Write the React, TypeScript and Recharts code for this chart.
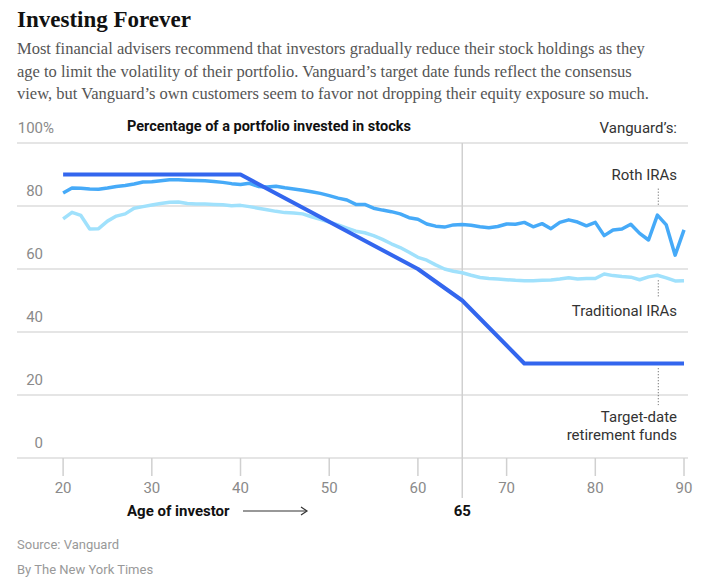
import React from 'react';
import { LineChart, Line, XAxis, YAxis, CartesianGrid, ReferenceLine } from 'recharts';

// ages 20..90, one reading per year
const ages = Array.from({ length: 71 }, (_, i) => 20 + i);

const rothIRA = [
  84.1, 85.7, 85.6, 85.4, 85.3, 85.7, 86.2, 86.5, 87.0, 87.6,
  87.7, 88.0, 88.3, 88.3, 88.2, 88.1, 88.0, 87.8, 87.5, 87.1,
  86.8, 87.2, 86.2, 86.0, 86.3, 85.8, 85.4, 85.0, 84.5, 84.0,
  83.3, 82.5, 81.9, 80.5, 80.5, 79.3, 78.7, 78.2, 77.5, 76.3,
  75.8, 74.3, 73.6, 73.3, 74.0, 74.1, 73.9, 73.4, 73.1, 73.5,
  74.3, 74.2, 74.8, 73.4, 74.4, 72.8, 74.8, 75.6, 74.9, 73.7,
  74.8, 70.6, 72.4, 72.7, 74.2, 71.3, 69.2, 77.1, 74.0, 64.4,
  72.4,
];

const traditionalIRA = [
  75.9, 78.0, 77.0, 72.7, 72.8, 75.2, 76.8, 77.5, 79.3, 79.8,
  80.3, 80.8, 81.2, 81.3, 80.8, 80.6, 80.6, 80.5, 80.4, 80.1,
  80.2, 79.8, 79.3, 78.8, 78.3, 77.9, 77.8, 77.5, 76.6, 75.8,
  74.9, 74.0, 73.0, 72.0, 71.5, 70.6, 69.4, 68.0, 66.8, 65.3,
  63.7, 62.8, 61.3, 60.0, 59.3, 58.8, 58.0, 57.3, 57.0, 56.8,
  56.6, 56.4, 56.3, 56.3, 56.4, 56.5, 56.8, 57.2, 56.8, 57.0,
  57.0, 58.4, 57.9, 57.6, 57.4, 56.6, 57.5, 58.0, 57.2, 56.2,
  56.3,
];

// glide path corners of the target-date funds
const targetAges = [20, 40, 60, 65, 72, 90];
const targetValues = [90, 90, 60, 50, 30, 30];

const xTicks = [20, 30, 40, 50, 60, 65, 70, 80, 90];
const yTicks = [0, 20, 40, 60, 80, 100];

const data = ages.map((age, i) => {
  const t = targetAges.indexOf(age);
  return {
    age,
    roth: rothIRA[i],
    trad: traditionalIRA[i],
    target: t >= 0 ? targetValues[t] : null,
  };
});

const SANS = 'Roboto, "Liberation Sans", Arial, sans-serif';
const SERIF = '"Liberation Serif", "DejaVu Serif", serif';

const XTick = (props: any) => {
  const { x, y, payload } = props;
  const is65 = payload.value === 65;
  return (
    <g>
      <line x1={x} x2={x} y1={y} y2={y + (is65 ? 40 : 18)} stroke="#d0d0d0" strokeWidth={1.5} />
      {!is65 && (
        <text x={x} y={y + 35} textAnchor="middle" fontSize={15} fill="#8a8a8a" fontFamily={SANS}>
          {payload.value}
        </text>
      )}
      {is65 && (
        <text x={x} y={y + 58} textAnchor="middle" fontSize={15} fontWeight={700} fill="#111" fontFamily={SANS}>
          65
        </text>
      )}
    </g>
  );
};

const YTick = (props: any) => {
  const { y, payload } = props;
  return (
    <g>
      <text x={43} y={y - 10} textAnchor="end" fontSize={15} fill="#8a8a8a" fontFamily={SANS}>
        {payload.value}
      </text>
      {payload.value === 100 && (
        <text x={43} y={y - 10} textAnchor="start" fontSize={15} fill="#8a8a8a" fontFamily={SANS}>%</text>
      )}
    </g>
  );
};

const abs = (style: React.CSSProperties): React.CSSProperties => ({
  position: 'absolute', whiteSpace: 'nowrap', ...style,
});

export default function App() {
  return (
    <div style={{ position: 'absolute', left: 0, top: 0, width: 720, height: 587, background: '#fff', fontFamily: SANS }}>
      <div style={abs({ left: 17, top: 6, fontFamily: SERIF, fontWeight: 700, fontSize: 23, lineHeight: '28px', color: '#111' })}>
        Investing Forever
      </div>
      <div style={abs({ left: 17, top: 38, fontFamily: SERIF, fontSize: 16.5, lineHeight: '22.5px', color: '#555' })}>
        Most financial advisers recommend that investors gradually reduce their stock holdings as they<br />
        age to limit the volatility of their portfolio. Vanguard’s target date funds reflect the consensus<br />
        view, but Vanguard’s own customers seem to favor not dropping their equity exposure so much.
      </div>

      <div style={{ position: 'absolute', left: 0, top: 0 }}>
        <LineChart width={720} height={587} data={data} margin={{ top: 143, right: 32, bottom: 89, left: 7 }}>
          <CartesianGrid vertical={false} stroke="#dcdcdc" strokeWidth={1.5} />
          <XAxis
            dataKey="age" type="number" domain={[14.8, 90.45]} allowDataOverflow
            ticks={xTicks} tick={<XTick />} tickLine={false} axisLine={false}
            tickSize={0} tickMargin={0} height={40} interval={0}
          />
          <YAxis
            type="number" domain={[0, 100]} ticks={yTicks} tick={<YTick />} interval={0}
            tickLine={false} axisLine={false} width={10} tickSize={0} tickMargin={0}
          />
          <ReferenceLine x={65} stroke="#d0d0d0" strokeWidth={1.5} />
          <ReferenceLine segment={[{ x: 87.1, y: 85.5 }, { x: 87.1, y: 79.8 }]} stroke="#555" strokeDasharray="1 2" />
          <ReferenceLine segment={[{ x: 87.1, y: 56.4 }, { x: 87.1, y: 51.2 }]} stroke="#555" strokeDasharray="1 2" />
          <ReferenceLine segment={[{ x: 87.1, y: 28.5 }, { x: 87.1, y: 16.8 }]} stroke="#555" strokeDasharray="1 2" />
          <Line dataKey="trad" stroke="#a0e1fc" strokeWidth={3.5} dot={false} isAnimationActive={false} strokeLinejoin="round" />
          <Line dataKey="roth" stroke="#46aaf8" strokeWidth={3.5} dot={false} isAnimationActive={false} strokeLinejoin="round" />
          <Line dataKey="target" stroke="#3366ee" strokeWidth={4} dot={false} connectNulls isAnimationActive={false} strokeLinejoin="round" />
        </LineChart>
      </div>

      <div style={abs({ left: 127, top: 118, fontWeight: 700, fontSize: 14.5, lineHeight: '18px', color: '#111' })}>
        Percentage of a portfolio invested in stocks
      </div>
      <div style={abs({ right: 720 - 677, top: 119, fontSize: 15, lineHeight: '18px', color: '#333' })}>Vanguard’s:</div>
      <div style={abs({ right: 720 - 677, top: 166, fontSize: 15, lineHeight: '18px', color: '#333' })}>Roth IRAs</div>
      <div style={abs({ right: 720 - 677, top: 302, fontSize: 15, lineHeight: '18px', color: '#333' })}>Traditional IRAs</div>
      <div style={abs({ right: 720 - 677, top: 408, fontSize: 15, lineHeight: '18px', color: '#333', textAlign: 'right' })}>
        Target-date<br />retirement funds
      </div>

      <div style={abs({ left: 127, top: 502, fontWeight: 700, fontSize: 15, lineHeight: '18px', color: '#111' })}>Age of investor</div>
      <svg style={{ position: 'absolute', left: 240, top: 505 }} width={72} height={12}>
        <line x1={3} y1={6} x2={66} y2={6} stroke="#333" strokeWidth={1.2} />
        <path d="M61,2 L67,6 L61,10" fill="none" stroke="#333" strokeWidth={1.2} />
      </svg>

      <div style={abs({ left: 17, top: 537, fontSize: 13, lineHeight: '16px', color: '#999' })}>Source: Vanguard</div>
      <div style={abs({ left: 17, top: 562, fontSize: 13, lineHeight: '16px', color: '#999' })}>By The New York Times</div>
    </div>
  );
}
